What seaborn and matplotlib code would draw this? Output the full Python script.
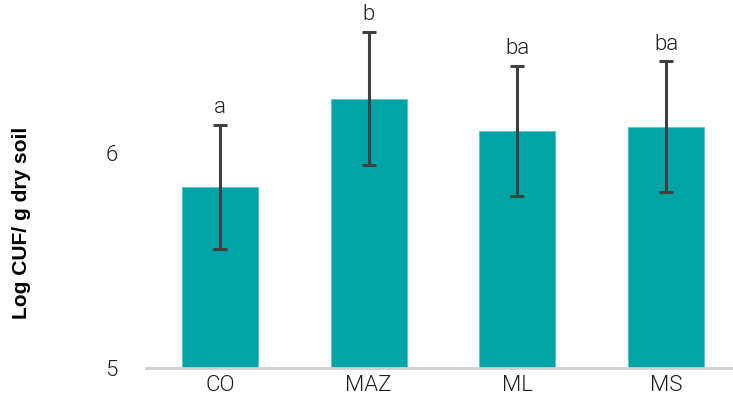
import matplotlib
matplotlib.use("Agg")
import matplotlib.pyplot as plt
import seaborn as sns
import pandas as pd

# Treatment groups and their mean log counts with standard deviations
treatments = ["CO", "MAZ", "ML", "MS"]
log_cfu = [5.842, 6.254, 6.103, 6.122]
std_dev = [0.29, 0.311, 0.303, 0.305]
letters = ["a", "b", "ba", "ba"]

df = pd.DataFrame({"treatment": treatments, "log_cfu": log_cfu})

sns.set_theme(style="white")
plt.rcParams["font.family"] = ["Roboto", "DejaVu Sans"]

fig = plt.figure(figsize=(7.33, 4.04), dpi=100)
ax = fig.add_axes([145.6 / 733, 36.3 / 404, 594.8 / 733, 367.7 / 404])

text_color = "#1e1e1e"
bar_color = "#00A3A6"
sns.barplot(data=df, x="treatment", y="log_cfu", color=bar_color,
            width=0.51, saturation=1, edgecolor="#5cc4c6", linewidth=0.6,
            errorbar=None, ax=ax)

xs = range(len(treatments))
ax.errorbar(xs, log_cfu, yerr=std_dev, fmt="none", ecolor="#404040",
            elinewidth=2.2, capsize=5.2, capthick=2.2, zorder=3)

for x, m, s, lab in zip(xs, log_cfu, std_dev, letters):
    ax.text(x, m + s + 0.032, lab, ha="center", va="bottom",
            fontsize=16, color=text_color, fontweight=300)

ax.set_ylim(5, 6.713)
ax.set_xlim(-0.5, 3.5)
ax.set_yticks([5, 6])
ax.set_yticklabels(["5", "6"])
ax.set_xlabel("")
ax.set_ylabel("")

fig.text(22 / 733, 1 - 222.5 / 404, "Log CUF/ g dry soil", rotation=90,
         ha="center", va="center", fontsize=15.1, fontweight="bold",
         family=["Liberation Sans", "DejaVu Sans"], color="black")

for side in ["top", "right", "left"]:
    ax.spines[side].set_visible(False)
ax.spines["bottom"].set_color("#D0D0D0")
ax.spines["bottom"].set_linewidth(2)

ax.tick_params(axis="both", length=0, colors=text_color)
ax.tick_params(axis="x", labelsize=16, pad=5)
ax.tick_params(axis="y", labelsize=16, pad=20)
for t in ax.get_xticklabels() + ax.get_yticklabels():
    t.set_fontweight(300)

fig.savefig("out.png", dpi=100)
